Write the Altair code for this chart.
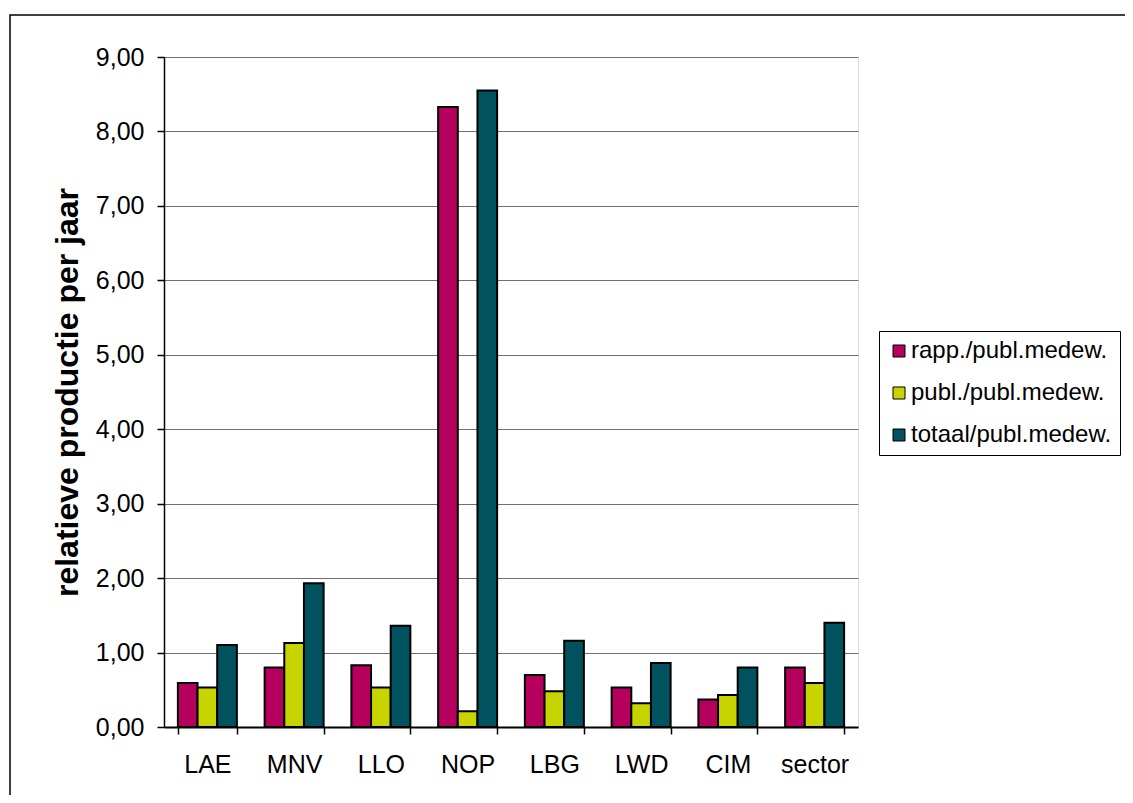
import altair as alt
import pandas as pd

categories = ["LAE", "MNV", "LLO", "NOP", "LBG", "LWD", "CIM", "sector"]
series = ["rapp./publ.medew.", "publ./publ.medew.", "totaal/publ.medew."]
rapp = [0.59, 0.80, 0.83, 8.33, 0.70, 0.53, 0.37, 0.80]
publ = [0.53, 1.13, 0.53, 0.21, 0.48, 0.32, 0.43, 0.59]
totaal = [1.10, 1.93, 1.36, 8.55, 1.16, 0.86, 0.80, 1.40]
colors = ["#B5005E", "#C8D400", "#00525F"]
y_ticks = [0, 1, 2, 3, 4, 5, 6, 7, 8, 9]

rows = []
for i, c in enumerate(categories):
    for s, vals in zip(series, [rapp, publ, totaal]):
        rows.append({"cat": c, "serie": s, "value": vals[i]})
df = pd.DataFrame(rows)

FONT = "Liberation Sans"

bars = alt.Chart(df).mark_bar(stroke="black", strokeWidth=2).encode(
    x=alt.X("cat:N", sort=categories,
            scale=alt.Scale(paddingInner=0.32, paddingOuter=0.16),
            axis=alt.Axis(title=None, labelAngle=0, labelFontSize=25, labelFont=FONT,
                          labelColor="black", labelPadding=18, tickBand="extent",
                          tickSize=7, tickColor="black", tickWidth=1.5,
                          domainColor="black", domainWidth=2, grid=False)),
    xOffset=alt.XOffset("serie:N", sort=series,
                        scale=alt.Scale(paddingInner=0, paddingOuter=0)),
    y=alt.Y("value:Q", scale=alt.Scale(domain=[0, 9], nice=False),
            axis=alt.Axis(title="relatieve productie per jaar", titleFontSize=32,
                          titleFont=FONT, titleFontWeight="bold", titleColor="black",
                          titlePadding=11,
                          values=y_ticks,
                          labelExpr="replace(format(datum.value, '.2f'), '.', ',')",
                          labelFontSize=25, labelFont=FONT, labelColor="black",
                          labelPadding=13, tickSize=7, tickColor="black", tickWidth=1.5,
                          domainColor="black", domainWidth=1.5,
                          grid=True, gridColor="#707070", gridWidth=1.2)),
    color=alt.Color("serie:N", sort=series,
                    scale=alt.Scale(domain=series, range=colors),
                    legend=alt.Legend(title=None, orient="none", legendX=715, legendY=274,
                                      strokeColor="black", fillColor="white", padding=8,
                                      symbolType="square", symbolSize=144,
                                      symbolStrokeColor="black", symbolStrokeWidth=1,
                                      symbolOpacity=1,
                                      labelFontSize=24, labelFont=FONT, labelColor="black",
                                      labelOffset=0, rowPadding=18, labelLimit=400)),
)

frame = alt.Chart(alt.Data(values=[{}])).mark_rect(
    fill=None, stroke="black", strokeWidth=1.5
).encode(
    x=alt.value(-154), x2=alt.value(3000), y=alt.value(-42), y2=alt.value(3000)
)

chart = alt.layer(frame, bars).properties(
    width=694, height=670,
    padding={"left": 156, "top": 49, "right": 267, "bottom": 68},
    autosize=alt.AutoSizeParams(type="none"),
).configure_view(stroke="#808080", strokeWidth=2).configure(background="white")

chart.save("out.html", embed_options={"renderer": "svg", "actions": False})
